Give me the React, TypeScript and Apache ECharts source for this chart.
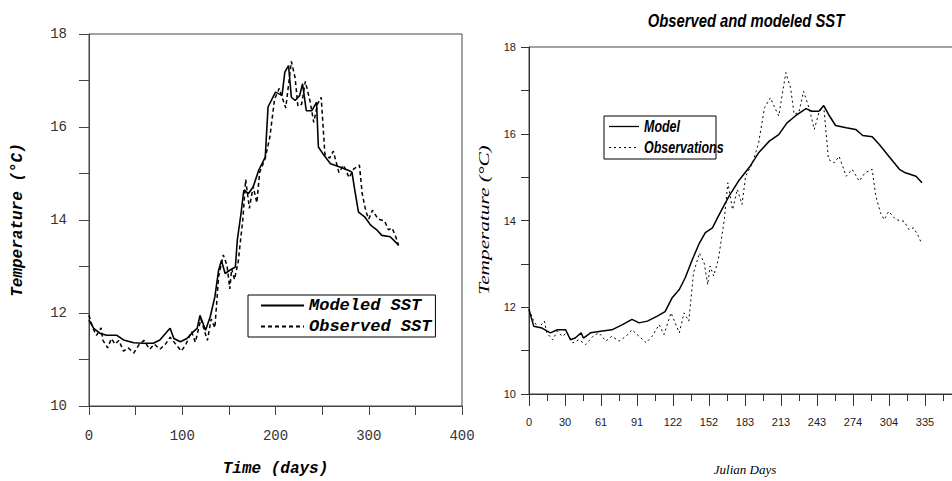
import React, { useEffect, useRef } from "react";
import * as echarts from "echarts";

// Observed SST (shared by both panels)
const obsDays = [0, 4, 8, 13, 15, 20, 24, 28, 32, 37, 42, 48, 54, 59, 65, 70, 76, 82, 87, 93, 99, 104, 110, 114, 120, 127, 131, 135, 139, 144, 148, 151, 153, 156, 160, 165, 168, 172, 176, 180, 183, 189, 194, 199, 204, 207, 211, 217, 221, 224, 228, 232, 237, 241, 245, 249, 253, 258, 262, 268, 273, 279, 284, 290, 293, 297, 300, 304, 310, 317, 321, 325, 329, 332];
const obsTemps = [11.95, 11.68, 11.52, 11.68, 11.41, 11.25, 11.45, 11.33, 11.41, 11.18, 11.25, 11.14, 11.33, 11.41, 11.22, 11.33, 11.22, 11.33, 11.48, 11.33, 11.18, 11.33, 11.6, 11.37, 11.87, 11.41, 11.87, 11.68, 12.79, 13.25, 13.02, 12.52, 12.95, 12.72, 13.1, 14.02, 14.87, 14.25, 14.72, 14.37, 15.02, 15.33, 15.79, 16.6, 16.83, 16.64, 16.41, 17.41, 17.06, 16.45, 16.49, 16.98, 16.56, 16.1, 16.49, 16.64, 15.41, 15.33, 15.48, 15.02, 15.18, 14.91, 15.1, 15.18, 14.56, 14.18, 14.02, 14.21, 14.02, 13.98, 13.79, 13.83, 13.64, 13.45];

// Left panel: Modeled SST
const leftModelDays = [0, 5, 12, 19, 30, 37, 48, 58, 69, 76, 85, 87, 91, 98, 105, 112, 116, 119, 125, 130, 135, 139, 142, 146, 151, 157, 159, 163, 166, 171, 176, 182, 189, 192, 200, 207, 210, 214, 217, 221, 226, 229, 233, 239, 244, 246, 252, 259, 269, 278, 282, 285, 289, 296, 302, 309, 314, 323, 332];
const leftModelTemps = [11.85, 11.67, 11.56, 11.52, 11.52, 11.42, 11.36, 11.35, 11.35, 11.42, 11.63, 11.67, 11.45, 11.38, 11.45, 11.6, 11.67, 11.95, 11.63, 11.92, 12.35, 12.92, 13.13, 12.85, 12.92, 12.99, 13.56, 14.14, 14.64, 14.57, 14.71, 15.07, 15.35, 16.43, 16.75, 16.68, 17.18, 17.32, 16.64, 16.57, 16.68, 16.93, 16.35, 16.35, 16.53, 15.57, 15.39, 15.21, 15.14, 15.07, 15.03, 14.64, 14.17, 14.06, 13.89, 13.78, 13.67, 13.64, 13.46];

// Right panel: Model
const rightModelDays = [0, 4, 11, 18, 24, 31, 35, 39, 44, 46, 52, 62, 70, 79, 87, 93, 100, 108, 115, 121, 127, 132, 138, 144, 149, 155, 160, 169, 177, 186, 194, 203, 211, 218, 225, 234, 239, 245, 249, 253, 259, 268, 276, 282, 290, 296, 304, 313, 318, 327, 332];
const rightModelTemps = [11.95, 11.56, 11.52, 11.41, 11.48, 11.48, 11.25, 11.29, 11.41, 11.29, 11.41, 11.45, 11.48, 11.6, 11.72, 11.64, 11.68, 11.79, 11.9, 12.22, 12.41, 12.68, 13.1, 13.48, 13.72, 13.83, 14.1, 14.56, 14.91, 15.22, 15.56, 15.83, 15.98, 16.25, 16.41, 16.58, 16.52, 16.52, 16.65, 16.45, 16.19, 16.14, 16.1, 15.96, 15.93, 15.75, 15.48, 15.18, 15.1, 15.02, 14.87];

const rightTitle = "Observed and modeled SST";
const rightYName = "Temperature (°C)";
const rightLegendNames = ["Model", "Observations"];

const zip = (xs: number[], ys: number[]) => xs.map((x, i) => [x, ys[i]]);

const MONO = "'Liberation Mono', 'DejaVu Sans Mono', monospace";
const SANS = "'Liberation Sans', Arial, sans-serif";
const SERIF = "'Liberation Serif', 'DejaVu Serif', serif";

export default function App() {
  const ref = useRef<HTMLDivElement>(null);
  useEffect(() => {
    if (!ref.current) return;
    const chart = echarts.init(ref.current, undefined, { renderer: "svg" });
    chart.setOption({
      animation: false,
      backgroundColor: "#ffffff",
      legend: [
        {
          orient: "vertical",
          left: 248,
          top: 295,
          data: ["Modeled SST", "Observed SST"],
          itemWidth: 43,
          itemHeight: 14,
          itemGap: 4,
          padding: [2, 4, 2, 12],
          borderColor: "#000",
          borderWidth: 1,
          itemStyle: { opacity: 0 },
          textStyle: { fontFamily: MONO, fontStyle: "italic", fontWeight: "bold", fontSize: 17, color: "#000" },
        },
      ],
      graphic: [
        {
          type: "text",
          x: 746,
          y: 21,
          scaleX: 0.78,
          style: {
            text: rightTitle,
            align: "center",
            verticalAlign: "middle",
            fontFamily: SANS,
            fontStyle: "italic",
            fontWeight: "bold",
            fontSize: 19,
            fill: "#000",
          },
        },
        {
          type: "text",
          x: 484,
          y: 220,
          rotation: Math.PI / 2,
          scaleX: 1.42,
          style: {
            text: rightYName,
            align: "center",
            verticalAlign: "middle",
            fontFamily: SERIF,
            fontStyle: "italic",
            fontSize: 15,
            fill: "#000",
          },
        },
        {
          type: "group",
          x: 604,
          y: 116,
          children: [
            { type: "rect", shape: { x: 0, y: 0, width: 112, height: 43 }, style: { fill: "#fff", stroke: "#000", lineWidth: 1 } },
            { type: "line", shape: { x1: 5, y1: 10.5, x2: 35, y2: 10.5 }, style: { stroke: "#000", lineWidth: 1.3 } },
            { type: "line", shape: { x1: 5, y1: 31.5, x2: 35, y2: 31.5 }, style: { stroke: "#000", lineWidth: 1, lineDash: [2, 3] } },
            {
              type: "text",
              x: 40,
              y: 10.5,
              scaleX: 0.78,
              style: { text: rightLegendNames[0], verticalAlign: "middle", fontFamily: SANS, fontStyle: "italic", fontWeight: "bold", fontSize: 16, fill: "#000" },
            },
            {
              type: "text",
              x: 40,
              y: 31.5,
              scaleX: 0.78,
              style: { text: rightLegendNames[1], verticalAlign: "middle", fontFamily: SANS, fontStyle: "italic", fontWeight: "bold", fontSize: 16, fill: "#000" },
            },
          ],
        },
      ],
      grid: [
        { left: 89, top: 34, width: 373, height: 372, show: true, borderColor: "#444", borderWidth: 1, backgroundColor: "transparent", outerBoundsMode: "none" },
        { left: 529, top: 47, width: 432, height: 347, show: true, borderColor: "#444", borderWidth: 1, backgroundColor: "transparent", outerBoundsMode: "none" },
      ],
      xAxis: [
        {
          gridIndex: 0,
          type: "value",
          min: 0,
          max: 400,
          interval: 50,
          name: "Time (days)",
          nameLocation: "middle",
          nameGap: 55,
          nameTextStyle: { fontFamily: MONO, fontStyle: "italic", fontWeight: "bold", fontSize: 16, color: "#000" },
          axisLine: { show: true, lineStyle: { color: "#444", width: 1 } },
          axisTick: { show: true, length: 9, inside: false, lineStyle: { color: "#444" } },
          splitLine: { show: false },
          axisLabel: {
            margin: 23,
            fontFamily: MONO,
            fontSize: 14,
            color: "#333",
            formatter: (v: number) => (v % 100 === 0 ? String(v) : ""),
          },
        },
        {
          gridIndex: 1,
          type: "value",
          min: 0,
          max: 365,
          interval: 365 / 12,
          name: "Julian Days",
          nameLocation: "middle",
          nameGap: 69,
          nameTextStyle: { fontFamily: SERIF, fontStyle: "italic", fontSize: 13, color: "#000" },
          axisLine: { show: true, lineStyle: { color: "#333", width: 1 } },
          axisTick: { show: true, length: 12, lineStyle: { color: "#333" } },
          minorTick: { show: true, splitNumber: 2, length: 7, lineStyle: { color: "#333" } },
          splitLine: { show: false },
          minorSplitLine: { show: false },
          axisLabel: {
            margin: 22,
            fontFamily: SANS,
            fontSize: 11,
            color: "#222",
            formatter: (v: number) => (v > 360 ? "" : String(Math.round(v))),
          },
        },
      ],
      yAxis: [
        {
          gridIndex: 0,
          type: "value",
          min: 10,
          max: 18,
          interval: 1,
          name: "Temperature (°C)",
          nameLocation: "middle",
          nameRotate: 90,
          nameGap: 63,
          nameTextStyle: { fontFamily: MONO, fontStyle: "italic", fontWeight: "bold", fontSize: 16, color: "#000" },
          axisLine: { show: true, lineStyle: { color: "#444", width: 1 } },
          axisTick: { show: true, length: 10, lineStyle: { color: "#444" } },
          splitLine: { show: false },
          axisLabel: {
            margin: 22,
            fontFamily: MONO,
            fontSize: 14,
            color: "#333",
            formatter: (v: number) => (v % 2 === 0 ? String(v) : ""),
          },
        },
        {
          gridIndex: 1,
          type: "value",
          min: 10,
          max: 18,
          interval: 1,
          axisLine: { show: true, lineStyle: { color: "#333", width: 1 } },
          axisTick: { show: true, length: 8, lineStyle: { color: "#333" } },
          splitLine: { show: false },
          axisLabel: {
            margin: 13,
            fontFamily: SANS,
            fontSize: 11,
            color: "#222",
            formatter: (v: number) => (v % 2 === 0 ? String(v) : ""),
          },
        },
      ],
      series: [
        {
          name: "Modeled SST",
          type: "line",
          xAxisIndex: 0,
          yAxisIndex: 0,
          data: zip(leftModelDays, leftModelTemps),
          symbol: "none",
          lineStyle: { color: "#000", width: 1.6, type: "solid" },
          itemStyle: { color: "#000" },
        },
        {
          name: "Observed SST",
          type: "line",
          xAxisIndex: 0,
          yAxisIndex: 0,
          data: zip(obsDays, obsTemps),
          symbol: "none",
          lineStyle: { color: "#000", width: 1.5, type: [4, 3] },
          itemStyle: { color: "#000" },
        },
        {
          name: "Model",
          type: "line",
          xAxisIndex: 1,
          yAxisIndex: 1,
          data: zip(rightModelDays, rightModelTemps),
          symbol: "none",
          lineStyle: { color: "#000", width: 1.5, type: "solid" },
          itemStyle: { color: "#000" },
        },
        {
          name: "Observations",
          type: "line",
          xAxisIndex: 1,
          yAxisIndex: 1,
          data: zip(obsDays, obsTemps),
          symbol: "none",
          lineStyle: { color: "#000", width: 1, type: [2, 3] },
          itemStyle: { color: "#000" },
        },
      ],
    });
    return () => chart.dispose();
  }, []);
  return <div ref={ref} style={{ position: "fixed", left: 0, top: 0, width: 952, height: 481 }} />;
}
